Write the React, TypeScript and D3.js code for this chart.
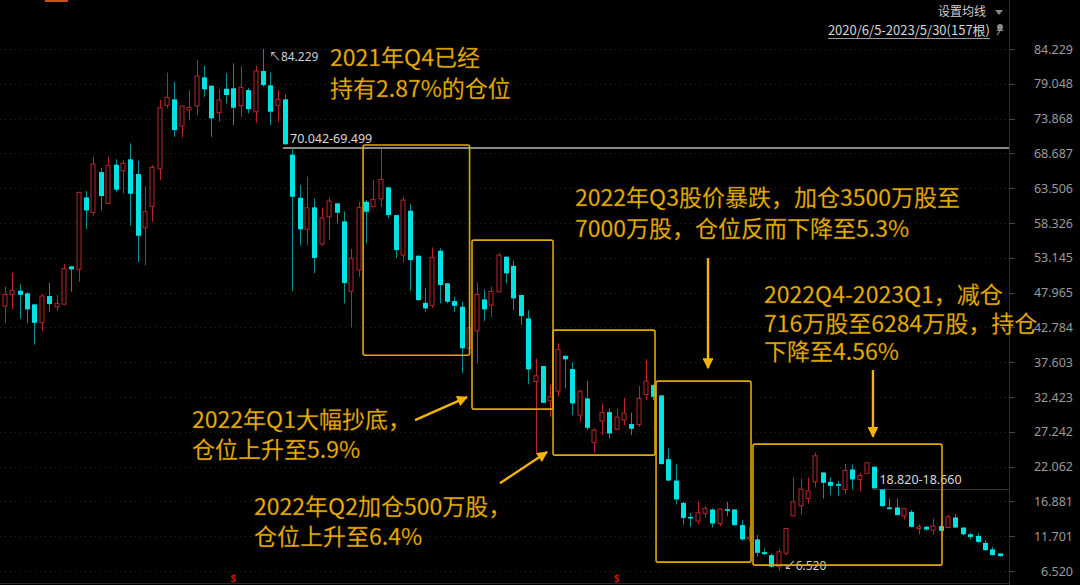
import { useEffect } from "react";
import * as d3 from "d3";

const width = 1080;
const height = 585;
const axisX = 1009;

// weekly candles (157根 in the title, 136 visible)
const opens = [
  45.96, 47.70, 48.24, 47.85, 46.21, 43.47, 47.45, 45.86, 46.25, 51.87,
  51.42, 62.14, 59.90, 65.90, 61.25, 67.00, 66.10, 67.80, 65.61, 57.61,
  60.80, 66.39, 75.84, 76.73, 72.76, 75.14, 75.74, 80.01, 78.76, 74.74,
  78.32, 78.38, 75.78, 78.12, 74.89, 80.95, 78.82, 75.84, 76.73, 68.50,
  62.08, 57.38, 60.65, 55.19, 59.25, 61.25, 58.57, 48.17, 51.32, 61.49,
  60.74, 61.93, 63.63, 59.51, 53.55, 60.15, 53.45, 46.45, 46.06, 54.19,
  49.34, 46.70, 45.86, 39.68, 42.27, 46.95, 46.10, 48.09, 53.30, 51.95,
  47.60, 44.13, 34.73, 37.03, 31.86, 33.30, 38.56, 36.58, 29.73, 32.21,
  25.62, 28.85, 30.17, 27.63, 29.02, 28.39, 28.34, 32.81, 34.19, 32.66,
  23.17, 19.99, 16.67, 14.58, 13.94, 15.10, 15.68, 13.59, 15.73, 15.68,
  13.35, 11.32, 11.22, 9.33, 8.89, 7.15, 9.18, 14.73, 16.23, 17.32,
  19.79, 21.19, 19.79, 19.45, 18.66, 21.64, 20.15, 21.05, 22.03, 18.66,
  15.98, 15.98, 14.73, 15.33, 12.85, 13.09, 12.60, 13.20, 12.99, 14.49,
  12.99, 11.99, 11.74, 10.70, 9.73, 9.14,
];
const highs = [
  48.83, 50.91, 49.23, 48.04, 46.30, 47.74, 49.42, 47.60, 52.21, 51.90,
  62.90, 63.09, 68.19, 66.50, 68.19, 67.80, 67.70, 70.18, 67.55, 63.83,
  66.95, 76.63, 80.70, 79.35, 75.80, 78.12, 82.59, 81.74, 78.80, 78.23,
  80.61, 82.08, 81.69, 78.40, 81.69, 84.229, 80.70, 78.12, 77.48, 69.499,
  63.98, 65.22, 61.99, 60.59, 62.23, 61.30, 60.06, 54.46, 61.49, 61.74,
  64.72, 69.33, 63.70, 59.55, 62.23, 61.15, 53.50, 48.68, 54.70, 54.55,
  49.40, 47.35, 46.60, 45.61, 49.44, 48.44, 48.83, 53.89, 53.35, 52.70,
  47.65, 45.36, 38.11, 37.10, 34.26, 40.42, 38.60, 37.58, 33.45, 34.83,
  27.74, 31.47, 30.72, 30.72, 32.30, 30.10, 34.04, 38.06, 34.30, 32.70,
  24.80, 22.43, 16.80, 15.18, 16.82, 16.18, 15.83, 15.83, 16.82, 15.70,
  14.09, 13.05, 11.86, 9.88, 9.14, 9.88, 12.90, 20.54, 20.29, 20.44,
  24.16, 21.20, 20.44, 19.94, 22.47, 22.39, 21.14, 22.78, 22.10, 18.66,
  17.32, 17.32, 15.90, 15.60, 13.49, 13.25, 14.34, 13.99, 14.90, 14.99,
  13.00, 12.18, 12.09, 11.10, 10.13, 9.15,
];
const lows = [
  43.47, 45.51, 44.07, 43.41, 40.22, 42.27, 45.11, 45.26, 46.10, 48.09,
  49.59, 57.43, 59.41, 60.25, 61.15, 62.89, 62.74, 57.91, 52.51, 52.06,
  58.50, 64.72, 75.39, 71.16, 71.07, 73.65, 74.39, 77.12, 71.16, 73.40,
  76.14, 72.91, 74.05, 74.65, 73.25, 78.61, 72.91, 73.40, 70.00, 48.17,
  55.00, 55.07, 50.87, 54.94, 55.78, 58.24, 46.36, 42.78, 50.32, 55.30,
  60.70, 60.74, 59.02, 53.13, 52.46, 48.26, 46.80, 45.11, 45.70, 46.36,
  46.36, 45.11, 35.96, 39.41, 37.44, 43.77, 44.37, 48.00, 49.34, 45.36,
  43.13, 34.30, 24.07, 31.50, 29.47, 32.45, 33.70, 29.73, 28.73, 27.49,
  24.11, 26.75, 26.24, 27.50, 28.24, 26.75, 27.99, 31.96, 31.96, 22.40,
  19.90, 16.43, 13.43, 13.09, 13.49, 14.48, 13.00, 13.19, 14.69, 13.30,
  11.00, 10.93, 8.66, 8.89, 7.06, 6.52, 8.89, 14.70, 14.84, 16.58,
  18.98, 17.32, 17.81, 17.66, 17.96, 18.66, 18.37, 21.00, 18.82, 16.10,
  15.70, 14.80, 14.19, 13.00, 11.96, 12.50, 11.96, 12.35, 12.90, 12.90,
  11.86, 11.22, 10.70, 9.50, 8.85, 8.64,
];
const closes = [
  47.70, 48.30, 47.64, 45.46, 43.47, 47.45, 46.25, 46.36, 51.51, 51.42,
  62.89, 60.20, 67.10, 62.34, 66.91, 63.28, 67.20, 62.68, 56.43, 60.00,
  66.60, 75.48, 77.03, 72.16, 75.74, 75.54, 80.21, 78.23, 73.90, 76.63,
  77.38, 75.48, 78.53, 75.29, 80.95, 78.86, 74.89, 76.73, 70.042, 62.23,
  57.38, 60.59, 53.13, 59.07, 61.59, 59.85, 49.39, 53.08, 60.65, 60.00,
  61.84, 64.82, 59.51, 54.29, 61.74, 52.80, 46.85, 45.61, 53.21, 49.10,
  46.60, 46.00, 39.68, 42.72, 47.70, 45.46, 48.14, 53.55, 50.83, 47.10,
  44.47, 36.53, 35.58, 31.56, 32.45, 39.52, 38.03, 31.47, 33.30, 27.84,
  27.49, 30.10, 26.99, 29.42, 30.02, 27.69, 32.21, 34.79, 32.45, 22.43,
  19.99, 17.17, 14.43, 14.34, 15.18, 15.83, 13.59, 15.73, 15.48, 13.35,
  11.22, 11.56, 9.23, 9.04, 7.15, 9.38, 12.85, 16.82, 18.71, 18.46,
  23.66, 19.64, 19.20, 19.20, 21.49, 20.15, 20.74, 22.63, 18.82, 16.18,
  15.73, 14.84, 15.83, 13.09, 13.09, 12.70, 13.20, 12.50, 14.58, 12.99,
  11.99, 11.59, 10.85, 9.63, 8.89, 8.74,
];

const tickLabels = [
  "84.229", "79.048", "73.868", "68.687", "63.506", "58.326", "53.145", "47.965",
  "42.784", "37.603", "32.423", "27.242", "22.062", "16.881", "11.701", "6.520",
];

// price gaps marked on the chart
const gaps = [
  { from: 38, value: 69.499, label: "70.042-69.499", strong: true },
  { from: 118, value: 18.66, label: "18.820-18.660", strong: false },
];

// highlight boxes, in candle index / price units
const boxes = [
  { i0: 48.6, i1: 63.05, top: 69.93, bottom: 38.63 },
  { i0: 63.38, i1: 74.38, top: 55.78, bottom: 30.62 },
  { i0: 74.38, i1: 88.22, top: 42.38, bottom: 23.77 },
  { i0: 88.36, i1: 101.25, top: 34.79, bottom: 7.84 },
  { i0: 101.52, i1: 127.17, top: 25.41, bottom: 7.39 },
];

const arrows = [
  { i0: 55.65, v0: 28.99, i1: 62.7, v1: 32.41 },
  { i0: 67.18, v0: 19.6, i1: 73.56, v1: 24.22 },
  { i0: 95.41, v0: 53.1, i1: 95.41, v1: 36.73 },
  { i0: 117.8, v0: 36.43, i1: 117.8, v1: 26.5 },
];

const notes = [
  { x: 330, y: 66, lines: ["2021年Q4已经", "持有2.87%的仓位"], lh: 31 },
  { x: 575, y: 206, lines: ["2022年Q3股价暴跌，加仓3500万股至", "7000万股，仓位反而下降至5.3%"], lh: 31 },
  { x: 764, y: 303, lines: ["2022Q4-2023Q1，减仓", "716万股至6284万股，持仓", "下降至4.56%"], lh: 28.5 },
  { x: 192, y: 428, lines: ["2022年Q1大幅抄底，", "仓位上升至5.9%"], lh: 30 },
  { x: 254, y: 515, lines: ["2022年Q2加仓500万股，", "仓位上升至6.4%"], lh: 30 },
];

// weeks carrying the red "$" flag under the axis
const flagWeeks = [31, 83];

const upColor = "#b8262b";
const downFill = "#00e3e3";
const downWick = "#0b8f91";
const noteColor = "#f3b400";
const boxColor = "#e0a800";

export default function App() {
  useEffect(() => {
    document.body.style.margin = "0";
    document.body.style.background = "#000";
  }, []);

  const n = opens.length;
  const x = d3.scaleLinear().domain([0, n - 1]).range([5, 999.7]);
  const y = d3.scaleLinear().domain([6.52, 84.229]).range([571, 49]);
  const bw = 5;

  const maxI = d3.maxIndex(highs);
  const minI = d3.minIndex(lows);

  return (
    <svg width={width} height={height} style={{ display: "block", background: "#000" }}
      fontFamily="'Noto Sans', 'Noto Sans CJK SC', sans-serif">
      <defs>
        <marker id="ah" viewBox="0 0 10 10" refX="9" refY="5" markerWidth="5" markerHeight="4.5"
          orient="auto" markerUnits="strokeWidth">
          <path d="M0,0 L10,5 L0,10 z" fill={noteColor} />
        </marker>
      </defs>
      <rect width={width} height={height} fill="#000" />
      <rect x={45} y={0} width={23} height={2} fill="#c8501a" />

      {/* grid */}
      {tickLabels.map(t => (
        <line key={"g" + t} x1={0} x2={axisX} y1={Math.round(y(+t)) + 0.5} y2={Math.round(y(+t)) + 0.5}
          stroke="#262626" strokeDasharray="1 4" />
      ))}

      {/* right axis */}
      <line x1={axisX + 0.5} x2={axisX + 0.5} y1={0} y2={height} stroke="#2e2e2e" />
      {tickLabels.map(t => (
        <g key={"t" + t}>
          <line x1={axisX} x2={axisX + 6} y1={Math.round(y(+t)) + 0.5} y2={Math.round(y(+t)) + 0.5} stroke="#444" />
          <text x={1073} y={y(+t) + 4.5} textAnchor="end" fontSize={12.5} fill="#9a9a9a">{t}</text>
        </g>
      ))}
      <line x1={0} x2={axisX} y1={583.5} y2={583.5} stroke="#2a2a2a" />

      {/* gap lines */}
      {gaps.map(g => (
        <g key={g.label}>
          <line x1={x(g.from) - 2} x2={axisX} y1={y(g.value)} y2={y(g.value)}
            stroke={g.strong ? "#8a8a8a" : "#3a3a3a"} strokeWidth={g.strong ? 2 : 1} />
          <text x={x(g.from) + 5} y={y(g.value) - 5} fontSize={12.5} fill="#d8d8d8">{g.label}</text>
        </g>
      ))}

      {/* candles */}
      {opens.map((o, i) => {
        const c = closes[i];
        const cx = Math.round(x(i)) + 0.5;
        const up = c >= o;
        const yt = y(Math.max(o, c));
        const yb = y(Math.min(o, c));
        const bh = Math.max(1.5, yb - yt);
        if (up) {
          return (
            <g key={i} stroke={upColor} fill="none">
              <line x1={cx} x2={cx} y1={y(highs[i])} y2={yt} />
              <line x1={cx} x2={cx} y1={yt + bh} y2={y(lows[i])} />
              <rect x={cx - bw / 2} y={yt} width={bw - 1} height={bh} />
            </g>
          );
        }
        return (
          <g key={i}>
            <line x1={cx} x2={cx} y1={y(highs[i])} y2={y(lows[i])} stroke={downWick} />
            <rect x={cx - bw / 2} y={yt} width={bw} height={bh} fill={downFill} />
          </g>
        );
      })}

      {/* max / min marks */}
      <text x={x(maxI) + 6} y={y(highs[maxI]) + 12} fontSize={12} fill="#cfcfcf">↖{highs[maxI].toFixed(3)}</text>
      <text x={x(minI) + 5} y={y(lows[minI]) - 1} fontSize={12} fill="#cfcfcf">↙{lows[minI].toFixed(3)}</text>

      {/* highlight boxes */}
      {boxes.map((b, k) => (
        <rect key={"b" + k} x={x(b.i0)} y={y(b.top)} width={x(b.i1) - x(b.i0)} height={y(b.bottom) - y(b.top)}
          rx={2} fill="none" stroke={boxColor} strokeWidth={1.6} />
      ))}

      {/* arrows */}
      {arrows.map((a, k) => (
        <line key={"a" + k} x1={x(a.i0)} y1={y(a.v0)} x2={x(a.i1)} y2={y(a.v1)}
          stroke={noteColor} strokeWidth={2.4} markerEnd="url(#ah)" />
      ))}

      {/* notes */}
      {notes.map((nt, k) => (
        <text key={"n" + k} fontFamily="'Noto Sans CJK SC', sans-serif" fontSize={23} fill={noteColor}
          stroke="#7a5800" strokeWidth={0.3}>
          {nt.lines.map((l, j) => (
            <tspan key={j} x={nt.x} y={nt.y + j * nt.lh}>{l}</tspan>
          ))}
        </text>
      ))}

      {/* flags at bottom */}
      {flagWeeks.map(i => (
        <text key={"s" + i} x={x(i)} y={582} fontSize={10} fontWeight="bold" fill="#c81010" textAnchor="middle">$</text>
      ))}

      {/* header */}
      <text x={986} y={16} fontSize={12} textAnchor="end" fill="#cfcfcf" fontFamily="'Noto Sans CJK SC', sans-serif">设置均线</text>
      <path d="M995,10 L1003,10 L999,15 z" fill="#888" />
      <text x={990} y={35} fontSize={13} textAnchor="end" fill="#d6d6d6" fontFamily="'Noto Sans CJK SC', sans-serif">2020/6/5-2023/5/30(157根)</text>
      <line x1={828} x2={990} y1={38.5} y2={38.5} stroke="#9a9a9a" />
      <g fill="#8a8a8a">
        <circle cx={1000} cy={27} r={3} />
        <path d="M996,31 L1004,31 L1000,28 z" />
        <line x1={997} y1={35} x2={1000} y2={31} stroke="#8a8a8a" strokeWidth={1.2} />
      </g>
    </svg>
  );
}
